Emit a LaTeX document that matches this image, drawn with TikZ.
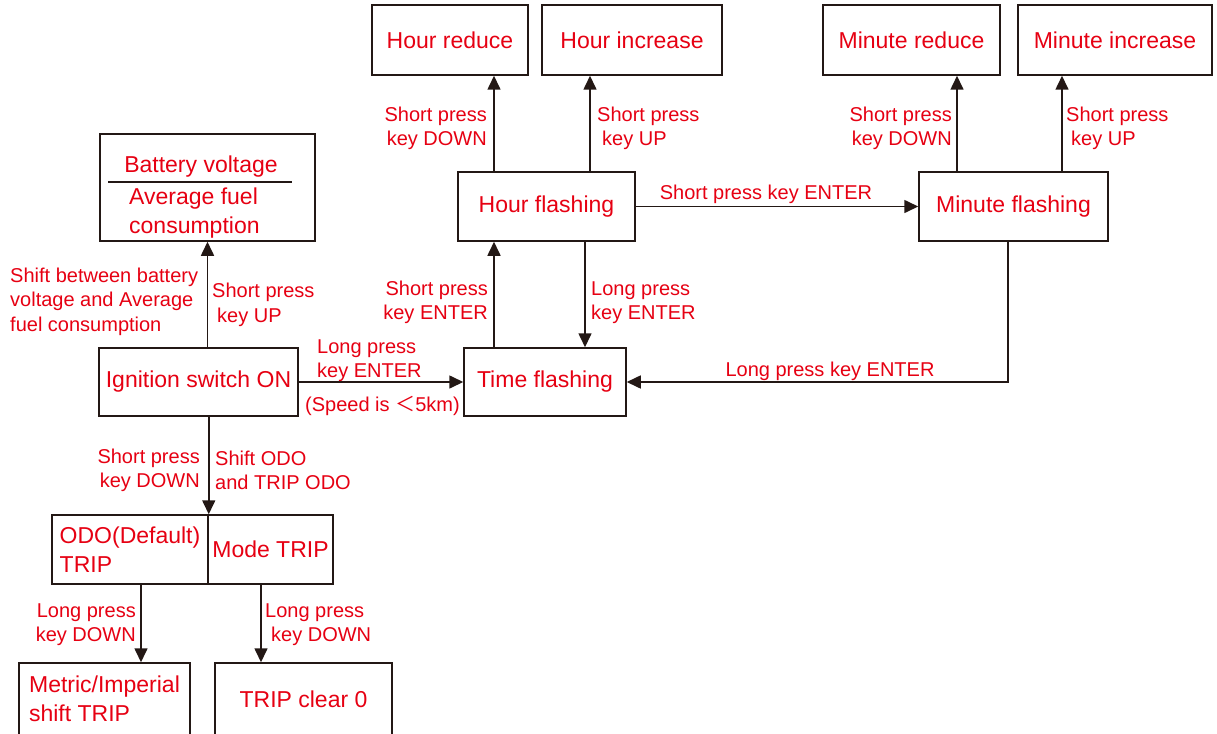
\documentclass[tikz,border=0pt]{standalone}
\usepackage{fontspec}
\setmainfont{Liberation Sans}
\newfontfamily\cjk{Noto Sans CJK SC}
\usetikzlibrary{arrows.meta}
\definecolor{txtred}{RGB}{230,0,18}
\definecolor{ink}{RGB}{35,24,21}
\begin{document}
\begin{tikzpicture}[x=1pt,y=-1pt,
  box/.style={draw=ink, line width=1.5pt, inner sep=0pt, text=txtred, align=center,
    font=\fontsize{23}{28.5}\selectfont},
  boxtxt/.style={inner sep=0pt, text=txtred, font=\fontsize{23}{29}\selectfont},
  lbl/.style={inner sep=0pt, text=txtred, font=\fontsize{20}{24.5}\selectfont},
  lbll/.style={lbl, align=left, anchor=west},
  lblr/.style={lbl, align=right, anchor=east},
  arr/.style={draw=ink, line width=1.6pt, -{Triangle[length=14pt,width=13pt]}},
  sep/.style={draw=ink, line width=1.5pt}]
\useasboundingbox (0,0) rectangle (1217,733);

% boxes
\node[box, minimum width=215pt, minimum height=107pt] (batt) at (207.5,187.5) {};
\node[boxtxt] (bv) at (201,167) {Battery voltage};
\node[boxtxt, align=left, anchor=west] (afc) at (129,213) {Average fuel\\consumption};
\draw[sep] (108,182) -- (292,182);

\node[box, minimum width=199pt, minimum height=68pt] (ign) at (198.5,382) {Ignition switch ON};
\node[box, minimum width=156pt, minimum height=69pt, align=left] (odoL) at (130,549.5) {ODO(Default)\\TRIP};
\node[box, minimum width=125pt, minimum height=69pt] (odoR) at (270.5,549.5) {Mode TRIP};
\node[box, minimum width=171pt, minimum height=72pt, align=left] (metric) at (104.5,699) {Metric/Imperial\\shift TRIP};
\node[box, minimum width=177pt, minimum height=72pt] (trip) at (303.5,699) {TRIP clear 0};

\node[box, minimum width=162pt, minimum height=68pt] (time) at (545,382) {Time flashing};
\node[box, minimum width=177pt, minimum height=69pt] (hourf) at (546.5,206.5) {Hour flashing};
\node[box, minimum width=156pt, minimum height=70pt] (hred) at (450,40) {Hour reduce};
\node[box, minimum width=180pt, minimum height=70pt] (hinc) at (632,40) {Hour increase};
\node[box, minimum width=189pt, minimum height=69pt] (minf) at (1013.5,206.5) {Minute flashing};
\node[box, minimum width=177pt, minimum height=70pt] (mred) at (911.5,40) {Minute reduce};
\node[box, minimum width=194pt, minimum height=70pt] (minc) at (1115,40) {Minute increase};

% helper x positions
\coordinate (xa) at (141,0);
\coordinate (xb) at (261,0);
\coordinate (xc) at (494,0);
\coordinate (xd) at (590,0);
\coordinate (xe) at (585,0);
\coordinate (xf) at (957,0);
\coordinate (xg) at (1062,0);
\coordinate (xh) at (1008,0);

% connectors
\draw[arr] (ign.north -| batt.south) -- (batt.south);
\draw[arr] (ign.south -| odoL.north east) -- (odoL.north east);
\draw[arr] (odoL.south -| xa) -- (metric.north -| xa);
\draw[arr] (odoR.south -| xb) -- (trip.north -| xb);
\draw[arr] (ign.east) -- (time.west);
\draw[arr] (time.north -| xc) -- (hourf.south -| xc);
\draw[arr] (hourf.south -| xe) -- (time.north -| xe);
\draw[arr] (hourf.north -| xc) -- (hred.south -| xc);
\draw[arr] (hourf.north -| xd) -- (hinc.south -| xd);
\draw[arr] (hourf.east) -- (minf.west);
\draw[arr] (minf.north -| xf) -- (mred.south -| xf);
\draw[arr] (minf.north -| xg) -- (minc.south -| xg);
\draw[arr] (minf.south -| xh) |- (time.east);

% labels
\node[lbll] (l1) at (10,301.5) {Shift between battery\\voltage and Average\\fuel consumption};
\node[lbll] (l2) at (212,305) {Short press\\\hspace*{5pt}key UP};
\node[lblr] (l3) at (200,470.5) {Short press\\key DOWN};
\node[lbll] (l4) at (215,470.5) {Shift ODO\\and TRIP ODO};
\node[lblr] (l5) at (136,624.5) {Long press\\key DOWN};
\node[lbll] (l6) at (265,624.5) {Long press\\\hspace*{6pt}key DOWN};
\node[lbll] (l7) at (317,360.5) {Long press\\key ENTER};
\node[lbll] (l8) at (305,406) {(Speed is {\cjk ＜}5km)};
\node[lblr] (l9) at (488,302.5) {Short press\\key ENTER};
\node[lbll] (l10) at (591,302.5) {Long press\\key ENTER};
\node[lblr] (l11) at (487,128.5) {Short press\\key DOWN};
\node[lbll] (l12) at (597,128.5) {Short press\\\hspace*{5pt}key UP};
\node[lbl] (l13) at (766,194) {Short press key ENTER};
\node[lblr] (l14) at (952,128.5) {Short press\\key DOWN};
\node[lbll] (l15) at (1066,128.5) {Short press\\\hspace*{5pt}key UP};
\node[lbl] (l16) at (830,371) {Long press key ENTER};
\end{tikzpicture}
\end{document}
